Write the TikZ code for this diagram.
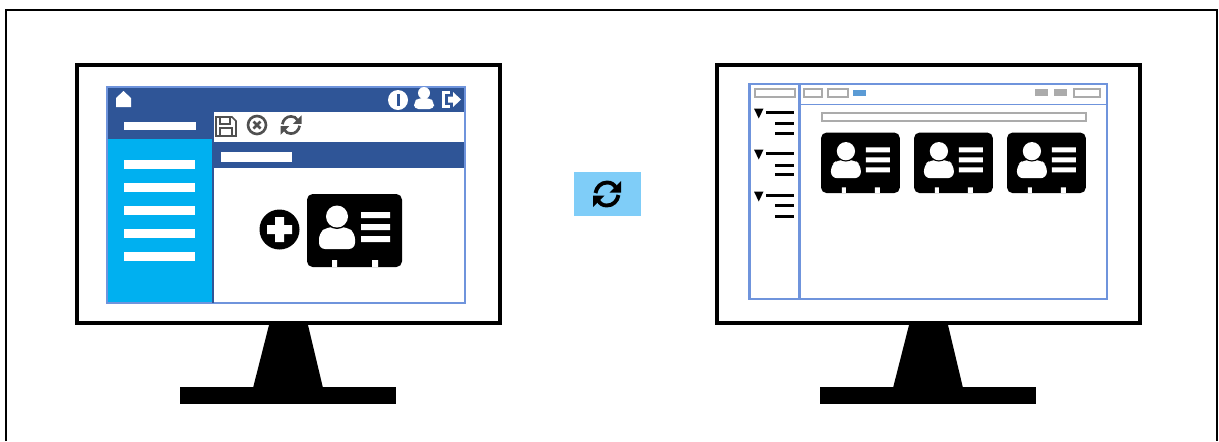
\documentclass[tikz,border=0pt]{standalone}
\usepackage{tikz}
\definecolor{headerblue}{HTML}{2F5597}
\definecolor{menublue}{HTML}{00B0F0}
\definecolor{framebrd}{HTML}{6F94DC}
\definecolor{syncblue}{HTML}{7FCDF8}
\definecolor{tabblue}{HTML}{5B9BD5}
\definecolor{boxgray}{HTML}{ABABAB}
\definecolor{icongray}{HTML}{505050}
\tikzset{
  boxthin/.style={draw=boxgray, line width=1.1pt, fill=white},
  treeline/.style={line width=1.7pt},
  monitor/.pic={
    \draw[line width=2.3pt, fill=white] (77,65) rectangle (500,323);
    \fill (269,325) -- (308,325) -- (323,388) -- (253,388) -- cycle;
    \fill (180,387) rectangle (395.5,404);
  },
  idcard/.pic={
    \fill[rounded corners=3.2pt] (0,0) rectangle (95,73);
    \fill[white] (25,66) rectangle (30,73) (65,66) rectangle (71,73);
    \fill[white, rounded corners=3.5pt] (12,55) -- (12,39) -- (20,33) -- (40,33) -- (48,39) -- (48,55) -- cycle;
    \fill (30,22.5) circle (12.5);
    \fill[white] (30,22.5) circle (11);
    \fill[white] (54,18) rectangle (83,24) (54,30) rectangle (83,36) (54,42) rectangle (83,48);
  },
  refresh/.pic={
    \foreach \a in {0,180} {
      \begin{scope}[rotate=\a]
        \draw[line width=#1] (-11.5,-1) .. controls (-10.5,-7) and (-6,-11.5) .. (0,-11.5) .. controls (4,-11.5) and (7,-10) .. (9,-6);
        \fill (14,-13) -- (14,-1.5) -- (2.5,-1.5) -- cycle;
      \end{scope}
    }
  }
}

\begin{document}
\begin{tikzpicture}[x=0.02cm, y=-0.02cm]
  \useasboundingbox (0,0) rectangle (1219,441);

  % Outer frame
  \draw[line width=1.1pt] (6,441) -- (6,10) -- (1217,10) -- (1217,441);

  % Monitors
  \pic at (0,0) {monitor};
  \pic at (640,0) {monitor};

  % Left window
  \fill[headerblue] (107,87) rectangle (465,112);
  \fill[headerblue] (107,112) rectangle (213,139);
  \fill[menublue] (107,139) rectangle (213,303);
  \fill[headerblue] (213,142) rectangle (465,168);
  \draw[framebrd, line width=0.7pt] (107,87) rectangle (465,303);
  \draw[headerblue, line width=0.6pt] (213,112) -- (213,303);
  \fill[white] (124,122) rectangle (196,130);
  \fill[white] (221,152) rectangle (292,162);
  \foreach \y in {160,183,206,229,252}
    \fill[white] (124,\y) rectangle (195,\y+9);

  % Header icons
  \fill[white] (116,107) -- (116,98) -- (123.5,91) -- (131,98) -- (131,107) -- cycle;
  \fill[white] (398,100) circle (10);
  \fill[headerblue] (396.5,94) rectangle (399.5,106);
  \fill[white] (424,93) circle (6);
  \fill[white, rounded corners=2.5pt] (414,109) -- (414,102) -- (418,98) -- (430,98) -- (434,102) -- (434,109) -- cycle;
  \draw[white, line width=1.3pt] (450,92.5) -- (443.5,92.5) -- (443.5,106.5) -- (450,106.5);
  \fill[white] (448,96.5) -- (453,96.5) -- (453,92) -- (461,99.5) -- (453,107) -- (453,102.5) -- (448,102.5) -- cycle;

  % Toolbar icons
  \draw[icongray, line width=0.9pt] (216,117) -- (232,117) -- (236,121) -- (236,136) -- (216,136) -- cycle;
  \draw[icongray, line width=0.8pt] (220,117) rectangle (230,124) (220,136) rectangle (232,128);
  \draw[icongray, line width=1.5pt] (257,125) circle (9);
  \draw[icongray, line width=1.5pt] (253.5,121.5) -- (260.5,128.5) (260.5,121.5) -- (253.5,128.5);
  \pic[scale=0.75, icongray] at (291,125) {refresh=1.5pt};

  % Add card
  \fill (279.5,229.5) circle (20);
  \fill[white] (275,217) rectangle (284,242) (267,225) rectangle (292,234);
  \pic at (307,194) {idcard};

  % Sync button
  \fill[syncblue] (574,172) rectangle (641,216);
  \pic at (607,194) {refresh=2.2pt};

  % Right window
  \draw[framebrd, line width=0.9pt] (749,84) rectangle (1107,299);
  \draw[framebrd, line width=1.3pt] (750,84) -- (750,299) (799.5,84) -- (799.5,299);
  \draw[framebrd, line width=1pt] (800,104.5) -- (1107,104.5);
  \draw[boxthin] (755,89) rectangle (795,97);
  \draw[boxthin] (804,89) rectangle (822,97);
  \draw[boxthin] (828,89) rectangle (848,97);
  \fill[tabblue] (853,90) rectangle (866,96);
  \fill[boxgray] (1035,89) rectangle (1048,96);
  \fill[boxgray] (1054,89) rectangle (1067,96);
  \draw[boxthin] (1074,89) rectangle (1100,97);
  \draw[boxthin] (822,113) rectangle (1086,121);

  % Tree
  \foreach \y/\a/\b in {112/123/133, 153/165/174, 195/205/216} {
    \fill (754,\y-3.5) -- (763.5,\y-3.5) -- (758.75,\y+6.5) -- cycle;
    \draw[treeline] (766,\y) -- (794,\y);
    \draw[treeline] (775,\a) -- (794,\a);
    \draw[treeline] (775,\b) -- (794,\b);
  }

  % Cards
  \foreach \x in {821,914,1007}
    \pic[scale=0.83] at (\x,132.5) {idcard};
\end{tikzpicture}
\end{document}
